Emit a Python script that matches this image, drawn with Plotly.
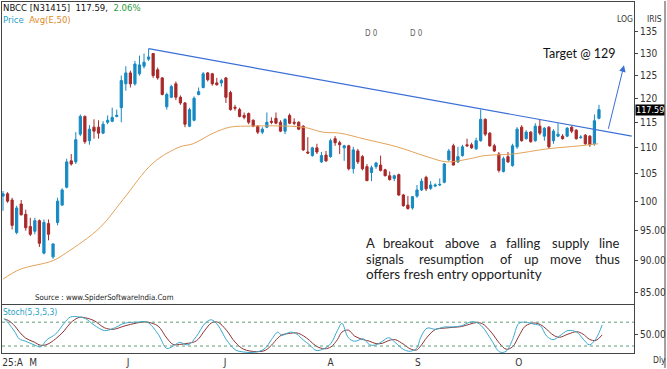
import math
import plotly.graph_objects as go

# ---------------- data ----------------
idx = list(range(132))
opens = [100.9,101.3,100.2,94.6,99.5,97.7,95.6,94.8,96.6,91.2,96.1,90.6,96.3,99.3,102.5,107.4,107.2,112.6,116.2,111.3,
         114.0,114.0,112.8,115.0,115.2,116.2,118.0,123.1,125.5,123.1,125.3,127.0,128.6,129.9,126.2,124.4,118.2,120.2,123.1,120.2,
         119.0,114.2,115.4,120.8,122.3,125.5,125.3,123.3,123.3,124.4,121.2,118.1,117.6,116.4,116.8,115.4,114.2,113.0,114.0,115.2,
         115.8,115.0,113.2,116.4,115.0,115.0,114.2,109.1,108.4,109.9,107.2,108.5,108.2,111.7,110.9,109.9,110.3,105.9,109.3,108.2,
         106.3,105.2,106.3,106.6,105.7,104.6,104.1,104.8,101.1,99.3,98.8,100.9,102.0,104.3,102.3,102.7,102.9,103.4,107.6,110.3,
         107.2,108.4,110.5,110.5,109.7,111.3,115.6,112.8,110.3,108.7,105.4,108.2,106.5,110.1,114.0,111.7,113.0,111.3,114.2,112.2,
         114.0,111.3,112.2,112.2,112.2,114.0,113.4,111.9,112.4,112.2,110.7,115.8]
highs = [101.8,101.6,100.6,99.2,100.2,98.5,97.1,97.1,96.8,96.8,96.8,92.8,100.6,102.3,107.8,108.7,113.0,116.6,116.4,114.4,
         115.6,115.4,115.2,116.4,118.0,117.6,124.9,127.0,126.0,128.2,129.4,129.9,131.0,129.9,126.7,124.6,121.2,122.9,123.6,120.6,
         119.2,118.0,120.4,122.3,125.7,125.7,125.5,124.4,124.2,124.6,121.6,118.6,118.0,117.0,117.0,115.6,114.4,114.0,117.0,116.0,
         117.0,115.4,115.8,116.8,115.8,115.2,114.4,112.0,110.1,110.7,109.1,109.3,111.7,112.2,111.3,110.5,110.5,110.1,109.7,108.5,
         106.8,106.5,107.2,108.4,105.9,105.4,104.8,105.0,101.3,100.9,100.9,102.9,104.1,104.6,103.6,103.2,104.1,107.0,109.7,110.7,
         110.1,110.5,111.7,110.9,111.9,117.6,115.8,113.0,110.7,109.1,108.2,109.1,110.7,114.0,114.4,113.4,113.2,114.8,115.6,114.0,
         114.2,113.6,114.8,112.6,114.0,114.2,113.6,112.4,112.6,112.4,116.6,118.6]
lows = [98.3,99.7,95.1,94.3,97.5,94.9,94.0,94.3,92.2,91.0,93.3,90.3,95.8,99.2,102.3,106.5,106.8,112.2,110.7,110.5,
        111.7,111.7,112.6,114.6,115.0,116.0,115.0,121.6,122.3,122.7,124.9,126.5,128.2,124.4,124.0,120.6,117.6,120.0,119.6,118.6,
        114.0,114.0,115.2,120.6,122.1,123.6,122.7,122.7,122.5,119.0,117.4,117.4,116.0,115.6,114.6,114.0,112.6,112.6,113.8,114.6,
        114.6,113.0,112.6,114.6,114.4,113.4,109.3,108.7,108.2,108.7,107.0,107.2,108.0,110.3,108.7,107.4,105.6,105.0,106.8,105.6,
        103.6,103.6,105.9,105.4,104.5,103.7,103.6,100.9,99.0,98.5,98.5,100.6,101.8,101.8,102.0,102.5,102.7,103.2,107.4,106.5,
        107.0,108.2,110.1,109.7,109.5,111.1,112.2,110.1,109.1,105.2,105.2,107.0,106.3,109.7,111.1,111.5,110.9,111.1,112.4,111.3,
        109.7,110.7,112.0,111.5,112.0,112.8,111.5,111.7,110.5,110.1,110.3,115.6]
closes = [101.3,100.0,95.8,98.8,97.6,95.4,94.3,96.6,92.8,96.3,94.3,92.7,100.0,102.0,107.2,106.8,111.5,116.2,111.1,113.6,
          113.2,112.8,114.6,115.4,116.0,116.4,123.8,125.5,123.1,127.5,127.3,127.9,129.1,124.9,124.4,120.8,120.8,122.5,120.2,119.0,
          114.6,117.6,120.0,121.4,125.3,124.0,123.1,122.9,123.8,120.2,117.6,117.9,116.2,116.0,115.0,114.2,113.0,113.6,115.0,115.0,
          114.8,113.2,115.6,114.8,114.8,113.6,109.5,108.9,109.9,109.1,108.4,107.4,111.3,110.9,110.5,110.3,105.9,109.5,107.2,105.9,
          103.7,106.1,107.0,105.6,104.6,103.9,104.6,101.1,99.2,98.7,100.8,102.0,103.6,102.2,102.9,102.9,103.0,106.8,109.3,106.6,
          108.2,110.1,110.3,109.9,111.3,115.6,112.6,110.3,109.3,105.6,107.8,107.2,110.3,113.6,111.3,113.0,111.1,114.2,112.8,113.8,
          110.1,113.2,112.6,111.7,113.8,113.2,111.7,112.0,110.7,110.5,115.3,117.59]

ma_idx = [0, 3.7, 11, 14, 21.3, 26.4, 33, 38.9, 41.8, 46.2, 49.9, 53.2, 65.9, 70.3, 74, 79.6, 86.6, 93.2, 97.6,
          102.6, 105.9, 112, 119.6, 126.8, 130.8]
ma_val = [87.1, 88.6, 90.0, 91.3, 95.4, 100.3, 107.0, 110.1, 110.7, 112.8, 114.0, 114.2, 114.0, 113.0, 112.8, 111.6,
          110.1, 108.2, 107.2, 107.8, 108.4, 108.7, 109.7, 110.3, 110.7]

trend_idx = [32, 138.2]
trend_val = [131.0, 112.2]

st_idx = [0.28,1.22,2.63,3.57,4.97,6.85,8.26,9.67,11.55,13.42,14.83,16.71,18.12,20.0,22.3,24.2,26.6,29.4,31.7,34.1,
          36.0,37.4,38.8,40.7,42.5,44.4,45.8,47.2,49.1,51.0,52.9,55.7,57.6,59.0,60.4,61.3,63.2,64.6,66.0,67.4,
          68.8,70.7,72.1,73.5,74.5,75.9,77.3,79.2,80.6,82.0,83.4,84.8,86.2,88.1,89.5,90.9,91.8,93.2,95.1,97.0,
          98.9,100.8,102.6,104.0,105.4,107.3,109.2,110.6,112.0,113.4,114.8,116.7,118.1,119.5,120.9,122.3,124.2,126.1,127.5,128.9,
          130.3,131.7]
st_k = [89,77,55,38,32,23,18,36,50,77,93,93,89,73,59,64,77,80,80,50,
        14,20,29,23,44,77,86,73,36,11,5,5,14,36,55,47,55,50,35,23,
        9,14,27,59,77,41,32,38,23,23,32,41,29,11,7,14,41,65,62,68,
        68,71,80,80,68,36,5,7,36,77,80,75,71,45,36,45,59,55,38,23,
        38,73]
st_d = [88,84,70,56,40,30,22,24,38,58,78,92,91,84,66,62,70,78,80,70,
        40,24,24,27,33,60,78,80,60,30,12,6,9,22,40,48,52,53,46,34,
        20,13,18,36,55,60,45,36,32,26,27,34,36,24,13,10,20,42,62,65,
        67,69,75,79,76,55,26,12,18,45,70,78,74,62,48,42,50,56,50,37,
        34,48]

x_tick_vals = [2.1, 6.6, 27.5, 48.8, 72.0, 91.2, 113.4]
x_tick_text = ["25:A", "M", "J", "J", "A", "S", "O"]
price_ticks = [85, 90, 95, 100, 105, 110, 115, 120, 125, 130, 135]
price_tick_text = ["85.00", "90.00", "95.00", "100", "105", "110", "115", "120", "125", "130", "135"]
last_price = 117.59
target_label = "Target @ 129"
target_tip = (136.5, 127.2)

# ---------------- layout helpers ----------------
W, H = 667, 369
ML, MR, MT, MB = 2, 33, 1, 15
PW, PH = W - ML - MR, H - MT - MB
def px(x): return (x - ML) / PW
def py(y): return (H - MB - y) / PH

NARROW = "Liberation Sans Narrow, DejaVu Sans Condensed, Arial Narrow, sans-serif"
UP, DN = "#1689c2", "#a82828"

fig = go.Figure()
fig.add_trace(go.Candlestick(
    x=idx, open=opens, high=highs, low=lows, close=closes,
    increasing=dict(line=dict(color=UP, width=1), fillcolor=UP),
    decreasing=dict(line=dict(color=DN, width=1), fillcolor=DN),
    whiskerwidth=0, xaxis="x", yaxis="y", showlegend=False, hoverinfo="skip"))
fig.add_trace(go.Scatter(x=ma_idx, y=ma_val, mode="lines", line=dict(color="#e3a25a", width=1, shape="spline"),
                         xaxis="x", yaxis="y", showlegend=False, hoverinfo="skip"))
fig.add_trace(go.Scatter(x=trend_idx, y=trend_val, mode="lines", line=dict(color="#3a6fd6", width=1.2),
                         xaxis="x", yaxis="y", showlegend=False, hoverinfo="skip"))
fig.add_trace(go.Scatter(x=st_idx, y=st_d, mode="lines", line=dict(color="#8e3434", width=1, shape="spline"),
                         xaxis="x2", yaxis="y2", showlegend=False, hoverinfo="skip"))
fig.add_trace(go.Scatter(x=st_idx, y=st_k, mode="lines", line=dict(color="#3aa8cf", width=1, shape="spline"),
                         xaxis="x2", yaxis="y2", showlegend=False, hoverinfo="skip"))

xr = [-0.22, 138.7]
main_bot = py(305)
stoch_top = py(306)
axis_common = dict(showgrid=False, zeroline=False, showline=True, linecolor="#444", linewidth=1, mirror=True)
fig.update_layout(
    width=W, height=H, margin=dict(l=ML, r=MR, t=MT, b=MB),
    paper_bgcolor="white", plot_bgcolor="white", showlegend=False,
    xaxis=dict(domain=[0, 1], range=xr, anchor="y", showticklabels=False, ticks="",
               rangeslider=dict(visible=False), **axis_common),
    yaxis=dict(domain=[main_bot, 1], type="log", range=[math.log10(83.3), math.log10(142.3)], side="right",
               tickvals=price_ticks, ticktext=price_tick_text, ticks="outside", ticklen=3, tickcolor="#444",
               tickfont=dict(family=NARROW, size=10, color="#333"), anchor="x", **axis_common),
    xaxis2=dict(domain=[0, 1], range=xr, anchor="y2", tickvals=x_tick_vals, ticktext=x_tick_text, ticks="",
                tickfont=dict(family=NARROW, size=10, color="#333"), **axis_common),
    yaxis2=dict(domain=[0, stoch_top], range=[2.5, 122.5], side="right", tickvals=[50], ticktext=["50.00"],
                ticks="outside", ticklen=3, tickcolor="#444",
                tickfont=dict(family=NARROW, size=10, color="#333"), anchor="x2", **axis_common),
)

shapes = []
for lvl in (80, 20):
    shapes.append(dict(type="line", xref="paper", x0=0, x1=1, yref="y2", y0=lvl, y1=lvl,
                       line=dict(color="#5f9f78", width=1, dash="dot")))
shapes.append(dict(type="line", xref="paper", x0=px(665), x1=px(665), yref="paper", y0=py(369), y1=py(0),
                   line=dict(color="#444", width=1)))
fig.update_layout(shapes=shapes)

ann = []
def text(x, y, s, size=10, color="#222", family=NARROW, xanchor="left"):
    ann.append(dict(xref="paper", yref="paper", x=px(x), y=py(y), text=s, showarrow=False,
                    xanchor=xanchor, yanchor="middle", font=dict(family=family, size=size, color=color)))

text(1, 7, "NBCC [N31415]&nbsp;&nbsp;117.59,&nbsp;&nbsp;<span style='color:#2f9a3c'>2.06%</span>", size=9.5, color="#111")
text(1, 19, "<span style='color:#2a9fc9'>Price</span>&nbsp;&nbsp;<span style='color:#e08a2a'>Avg(E,50)</span>", size=9.5)
text(615, 18, "LOG", size=8.5, color="#333")
text(645, 18, "IRIS", size=8.5, color="#333")
text(363, 33, "D 0", size=8, color="#666")
text(408, 33, "D 0", size=8, color="#666")
text(33, 298, "Source : www.SpiderSoftwareIndia.Com", size=7.8, color="#222")
text(1, 313, "Stoch(5,3,5,3)", size=8.5, color="#2a9fc9")
text(651, 361, "Dly", size=8.5, color="#333")
text(541, 53, target_label, size=12.5, color="#111", family="Lato, Open Sans, sans-serif")

BODY = "Lato, Open Sans, sans-serif"
line1 = [(364, "A"), (381, "breakout"), (443, "above"), (488, "a"), (504, "falling"), (550, "supply"), (597, "line")]
line2 = [(364, "signals"), (417, "resumption"), (498, "of"), (522, "up"), (548, "move"), (593, "thus")]
for xw, w in line1:
    text(xw, 243, w, size=13, color="#222", family=BODY)
for xw, w in line2:
    text(xw, 259, w, size=13, color="#222", family=BODY)
text(364, 275, "offers fresh entry opportunity", size=13.5, color="#222", family=BODY)

# last price tag
ann.append(dict(xref="paper", yref="y", x=px(635), y=math.log10(last_price), text="117.59", showarrow=False,
                xanchor="left", yanchor="middle", bgcolor="#000", borderpad=0,
                font=dict(family=NARROW, size=9, color="white")))
# target arrow
ann.append(dict(xref="x", yref="y", x=target_tip[0], y=math.log10(target_tip[1]), text="", showarrow=True,
                ax=-16, ay=65, axref="pixel", ayref="pixel", arrowhead=2, arrowsize=1.3, arrowwidth=1,
                arrowcolor="#3a6fd6"))
fig.update_layout(annotations=ann)

fig.write_html("out.html", config={"displayModeBar": False},
               post_script="document.body.style.margin='0';document.body.style.padding='0';")
